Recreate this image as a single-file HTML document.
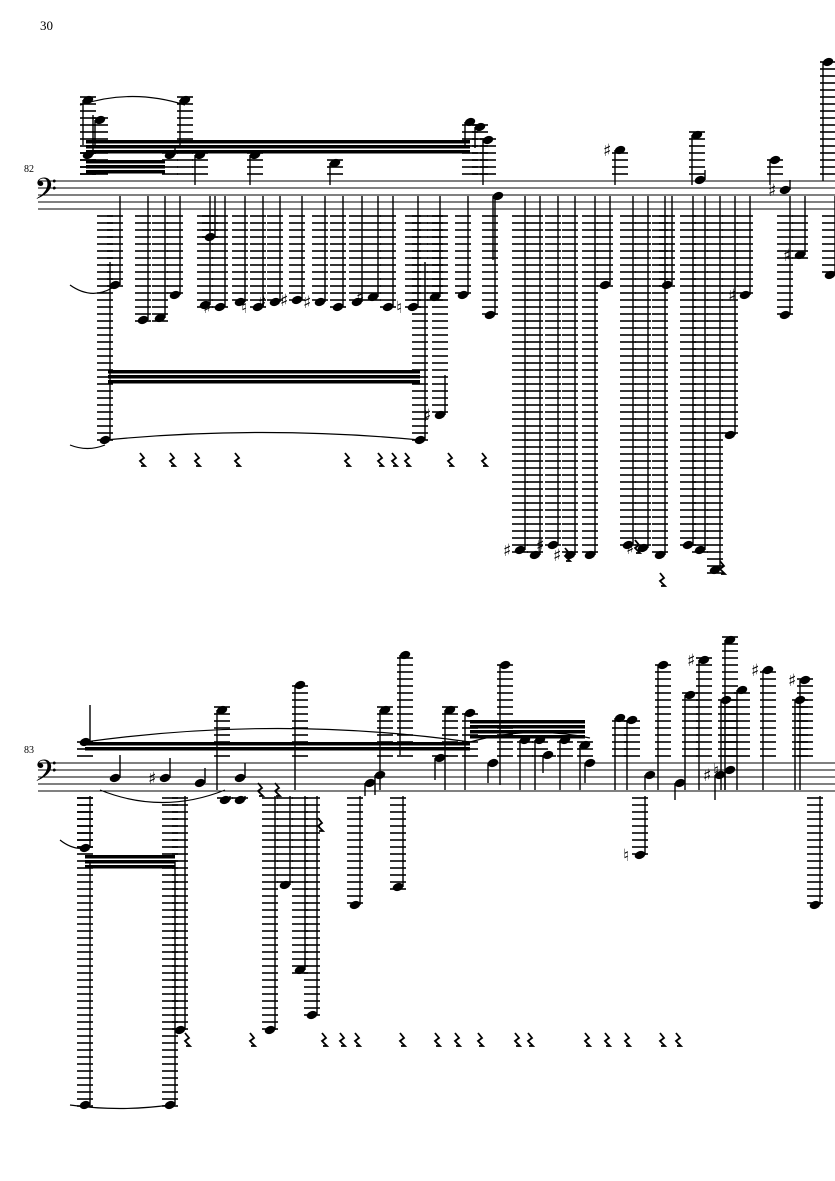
<!DOCTYPE html>
<html><head><meta charset="utf-8"><style>
body{margin:0;background:#fff;width:835px;height:1181px;overflow:hidden;font-family:"Liberation Serif",serif}
.t{position:absolute;font-size:13px}
</style></head><body>
<div class="t" style="left:40px;top:18px">30</div>
<div class="t" style="left:24px;top:164px;font-size:10px">82</div>
<div class="t" style="left:24px;top:745px;font-size:10px">83</div>
<svg id="s" width="835" height="1181" style="position:absolute;left:0;top:0" xmlns="http://www.w3.org/2000/svg"></svg>
<script>
var s=document.getElementById('s'),h='';
function L(x1,y1,x2,y2,w){h+='<line x1="'+x1+'" y1="'+y1+'" x2="'+x2+'" y2="'+y2+'" stroke="#000" stroke-width="'+(w||1)+'"/>';}
function H(x,y){h+='<ellipse cx="'+x+'" cy="'+y+'" rx="5.4" ry="3.9" transform="rotate(-20 '+x+' '+y+')"/>';}
function staff(T){for(var i=0;i<5;i++)L(38,T+i*7,835,T+i*7,1);
 h+='<text x="34" y="'+(T+24)+'" font-size="36" font-family="DejaVu Sans">\u{1D122}</text>';}
function note(T,x,y,stemEnd,acc){var B=T+28;
 if(y<T){for(var k=T-7;k>=y-3;k-=7)L(x-8,k,x+8,k,1.6);}
 if(y>B){for(var k=B+7;k<=y+3;k+=7)L(x-8,k,x+8,k,1.6);}
 H(x,y);
 if(stemEnd!==undefined){var sx=stemEnd<y?x+5:x-5;L(sx,y,sx,stemEnd,1.4);}
 if(acc)h+='<text x="'+(x-17)+'" y="'+(y+6)+'" font-size="17" font-family="DejaVu Sans">'+acc+'</text>';}
function rest(x,y){h+='<path d="M'+x+' '+(y-7)+'l4 5-4 3 5 5-4 0" stroke="#000" fill="none" stroke-width="1.8"/>';}
function beam(x1,y1,x2,y2,n){for(var i=0;i<n;i++)h+='<polygon points="'+x1+','+(y1+i*5)+' '+x2+','+(y2+i*5)+' '+x2+','+(y2+i*5+3.5)+' '+x1+','+(y1+i*5+3.5)+'"/>';}
function slur(x1,y1,x2,y2,c){h+='<path d="M'+x1+' '+y1+'Q'+((x1+x2)/2)+' '+c+' '+x2+' '+y2+'" fill="none" stroke="#000" stroke-width="1.2"/>';}
// System 1
var T=181;staff(T);
[[88,155,115],[88,100,145],[100,120,145],[185,100,145],[170,155,145],[200,155,185],[255,155,185],[335,163,185],[470,122,148],[480,127,148],[488,140,185],[620,150,185,'♯'],[697,135,185],[775,160,185],[828,62,181],[700,180,170]].forEach(function(a){note(T,a[0],a[1],a[2],a[3]);});
beam(86,140,470,140,3);beam(86,160,165,160,3);
var lows=[[115,285],[143,320],[160,318],[175,295],[210,237],[205,305],[220,307,'♯'],[240,302],[258,307,'♮'],[275,302,'♯'],[297,300,'♯'],[320,302,'♯'],[338,307],[357,302],[373,297,'♯'],[388,307],[413,307,'♮'],[435,297],[463,295],[490,315],[520,550,'♯'],[535,555],[553,545,'♯'],[570,555,'♯'],[590,555],[605,285],[628,545],[643,548,'♯'],[660,555],[667,285],[688,545],[700,550],[715,570],[730,435],[745,295,'♯'],[785,315],[800,255,'♯'],[830,275]];
lows.forEach(function(a){note(T,a[0],a[1],196,a[2]);});
note(T,498,196,260);note(T,785,190,180,'♯');
note(T,105,440,262);note(T,420,440,262);note(T,440,415,375,'♯');
beam(108,370,420,370,3);
slur(70,445,105,445,452);slur(105,440,420,440,425);slur(70,285,112,288,300);slur(80,105,185,105,88);
[140,170,195,235,345,378,392,405,448,482].forEach(function(x){rest(x,460);});
rest(565,555);rest(635,547);rest(660,580);rest(720,568);
// System 2
T=763;staff(T);
var ups=[[85,742,705],[222,710,790],[300,685,790],[385,710,790],[405,655,755],[450,710,790],[470,713,790],[505,665,785],[525,740,790],[540,740,790],[565,740,790],[585,745,790],[620,718,790],[632,720,790],[663,665,790],[690,695,790],[704,660,790,'♯'],[726,700,790],[730,640,790],[742,690,790],[768,670,790,'♯'],[800,700,790],[805,680,790,'♯']];
ups.forEach(function(a){note(T,a[0],a[1],a[2],a[3]);});
beam(470,720,585,720,4);beam(85,742,470,742,2);
[[115,778,755],[165,778,758,'♯'],[200,783,768],[240,778,763],[440,758,780],[380,775,795],[493,763,783],[548,755,773],[590,763,783],[650,775,790],[680,783,800],[720,775,800,'♯'],[730,770,790,'♮']].forEach(function(a){note(T,a[0],a[1],a[2],a[3]);});
var lo2=[[85,848],[180,1030],[225,800],[240,800],[270,1030],[285,885],[300,970],[312,1015],[355,905],[370,783],[398,887],[640,855,'♮'],[815,905]];
lo2.forEach(function(a){note(T,a[0],a[1],796,a[2]);});
note(T,85,1105,860);note(T,170,1105,860);beam(85,855,175,855,3);
slur(60,840,85,848,850);slur(70,1105,170,1105,1112);slur(100,790,225,790,815);slur(470,742,590,738,725);slur(85,742,470,742,715);
[185,250,322,340,355,400,435,455,478,515,528,585,605,625,660,676].forEach(function(x){rest(x,1040);});
rest(258,790);rest(275,790);rest(318,825);
s.innerHTML=h;
</script>
</body></html>
